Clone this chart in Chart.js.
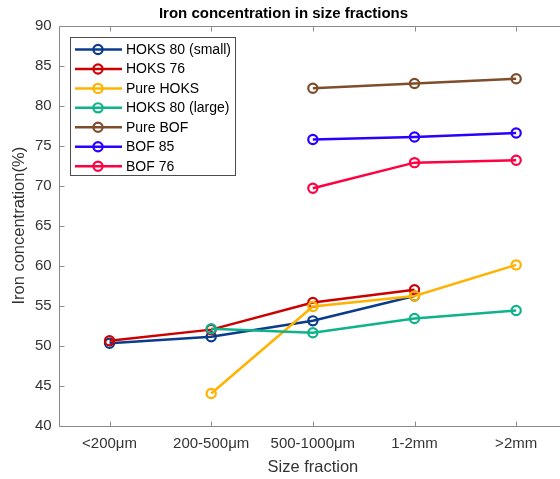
<!DOCTYPE html>
<html>
<head>
<meta charset="utf-8">
<script src="https://cdn.jsdelivr.net/npm/chart.js@4.4.0/dist/chart.umd.min.js"></script>
<style>
  html, body { margin: 0; padding: 0; background: #fff; overflow: hidden; }
  #wrap { width: 624px; height: 479px; position: relative; }
</style>
</head>
<body>
<div id="wrap"><canvas id="fe"></canvas></div>
<script>
const sizeFractions = ['<200\u03bcm', '200-500\u03bcm', '500-1000\u03bcm', '1-2mm', '>2mm']
const yTicks = [40, 45, 50, 55, 60, 65, 70, 75, 80, 85, 90]

const seriesNames = ['HOKS 80 (small)', 'HOKS 76', 'Pure HOKS', 'HOKS 80 (large)', 'Pure BOF', 'BOF 85', 'BOF 76']
const hoks80Small = [50.3, 51.1, 53.1, 56.2, null]
const hoks76      = [50.6, 52.0, 55.4, 57.0, null]
const pureHoks    = [null, 44.0, 54.9, 56.2, 60.1]
const hoks80Large = [null, 52.1, 51.6, 53.4, 54.4]
const pureBof     = [null, null, 82.2, 82.8, 83.4]
const bof85       = [null, null, 75.8, 76.1, 76.6]
const bof76       = [null, null, 69.7, 72.9, 73.2]
const seriesColors = ['#0b3c8c', '#cc0000', '#ffb300', '#0fb38a', '#7e4e2c', '#2a00ff', '#ff0040']

const FONT = "'Liberation Sans', Arial, Helvetica, sans-serif"
const allSeries = [hoks80Small, hoks76, pureHoks, hoks80Large, pureBof, bof85, bof76]

const datasets = allSeries.map((vals, i) => ({
  label: seriesNames[i],
  data: vals,
  borderColor: seriesColors[i],
  backgroundColor: 'rgba(0,0,0,0)',
  borderWidth: 2.5,
  pointStyle: 'circle',
  pointRadius: 4.6,
  pointBorderWidth: 2.2,
  pointBackgroundColor: 'rgba(0,0,0,0)',
  pointBorderColor: seriesColors[i],
  tension: 0,
  spanGaps: false,
  order: allSeries.length - i   // later series sit on top
}))

// box, inward ticks and the legend panel
const frame = {
  id: 'frame',
  beforeDatasetsDraw(chart){
    const {ctx, chartArea: a, scales} = chart
    const L = Math.round(a.left) + 0.5, T = Math.round(a.top) + 0.5
    const B = Math.round(a.bottom) + 0.5, R = Math.round(a.right) + 0.5
    ctx.save()
    ctx.strokeStyle = '#8a8a8a'
    ctx.lineWidth = 1
    ctx.beginPath()
    ctx.moveTo(L, T); ctx.lineTo(R, T)
    ctx.moveTo(L, T); ctx.lineTo(L, B)
    ctx.moveTo(L, B); ctx.lineTo(R, B)
    ctx.moveTo(R, T); ctx.lineTo(R, B)
    sizeFractions.forEach((c, i) => {
      const px = Math.round(scales.x.getPixelForValue(i)) + 0.5
      ctx.moveTo(px, B); ctx.lineTo(px, B - 5)
      ctx.moveTo(px, T); ctx.lineTo(px, T + 5)
    })
    yTicks.forEach(v => {
      const py = Math.round(scales.y.getPixelForValue(v)) + 0.5
      ctx.moveTo(L, py); ctx.lineTo(L + 5, py)
      ctx.moveTo(R, py); ctx.lineTo(R - 5, py)
    })
    ctx.stroke()
    ctx.restore()
  },
  afterDatasetsDraw(chart){
    const {ctx} = chart
    const x0 = 70.5, y0 = 37.5, w = 165, h = 138, rowH = 19.45, firstRow = 49.5
    ctx.save()
    ctx.fillStyle = '#fff'
    ctx.fillRect(x0, y0, w, h)
    ctx.strokeStyle = '#4d4d4d'
    ctx.lineWidth = 1
    ctx.strokeRect(x0, y0, w, h)
    ctx.font = '14px ' + FONT
    ctx.textBaseline = 'middle'
    ctx.textAlign = 'left'
    chart.data.datasets.forEach((ds, i) => {
      const y = firstRow + i * rowH
      ctx.strokeStyle = ds.borderColor
      ctx.lineWidth = 2.5
      ctx.beginPath()
      ctx.moveTo(75, y); ctx.lineTo(122, y)
      ctx.stroke()
      ctx.lineWidth = 2.2
      ctx.beginPath()
      ctx.arc(98, y, 4.6, 0, Math.PI * 2)
      ctx.stroke()
      ctx.fillStyle = '#000'
      ctx.fillText(ds.label, 126, y + 0.5)
    })
    ctx.restore()
  }
}

new Chart(document.getElementById('fe'), {
  type: 'line',
  data: { labels: sizeFractions, datasets: datasets },
  plugins: [frame],
  options: {
    responsive: true,
    maintainAspectRatio: false,
    animation: false,
    layout: { padding: { left: 0, right: 57, top: 0, bottom: 0 } },
    plugins: {
      legend: { display: false },
      tooltip: { enabled: false },
      title: {
        display: true,
        text: 'Iron concentration in size fractions',
        color: '#000',
        font: { family: FONT, size: 15, weight: 'bold' },
        padding: { top: 5, bottom: 3 }
      }
    },
    scales: {
      x: {
        type: 'category',
        offset: true,
        grid: { display: false, drawTicks: false },
        border: { display: false },
        ticks: { color: '#333', font: { family: FONT, size: 15 }, padding: 9, maxRotation: 0, autoSkip: false },
        title: { display: true, text: 'Size fraction', color: '#333', font: { family: FONT, size: 16.5 }, padding: { top: 0, bottom: 2 } },
        afterFit(s){ s.height = 53.5 }
      },
      y: {
        min: 40,
        max: 90,
        afterBuildTicks(s){ s.ticks = yTicks.map(v => ({value: v})) },
        grid: { display: false, drawTicks: false },
        border: { display: false },
        ticks: { color: '#333', font: { family: FONT, size: 15 }, padding: 7 },
        title: { display: true, text: 'Iron concentration(%)', color: '#333', font: { family: FONT, size: 16.5 }, padding: { top: 10, bottom: 0 } },
        afterFit(s){ s.width = 58.7 }
      }
    }
  }
})
</script>
</body>
</html>
